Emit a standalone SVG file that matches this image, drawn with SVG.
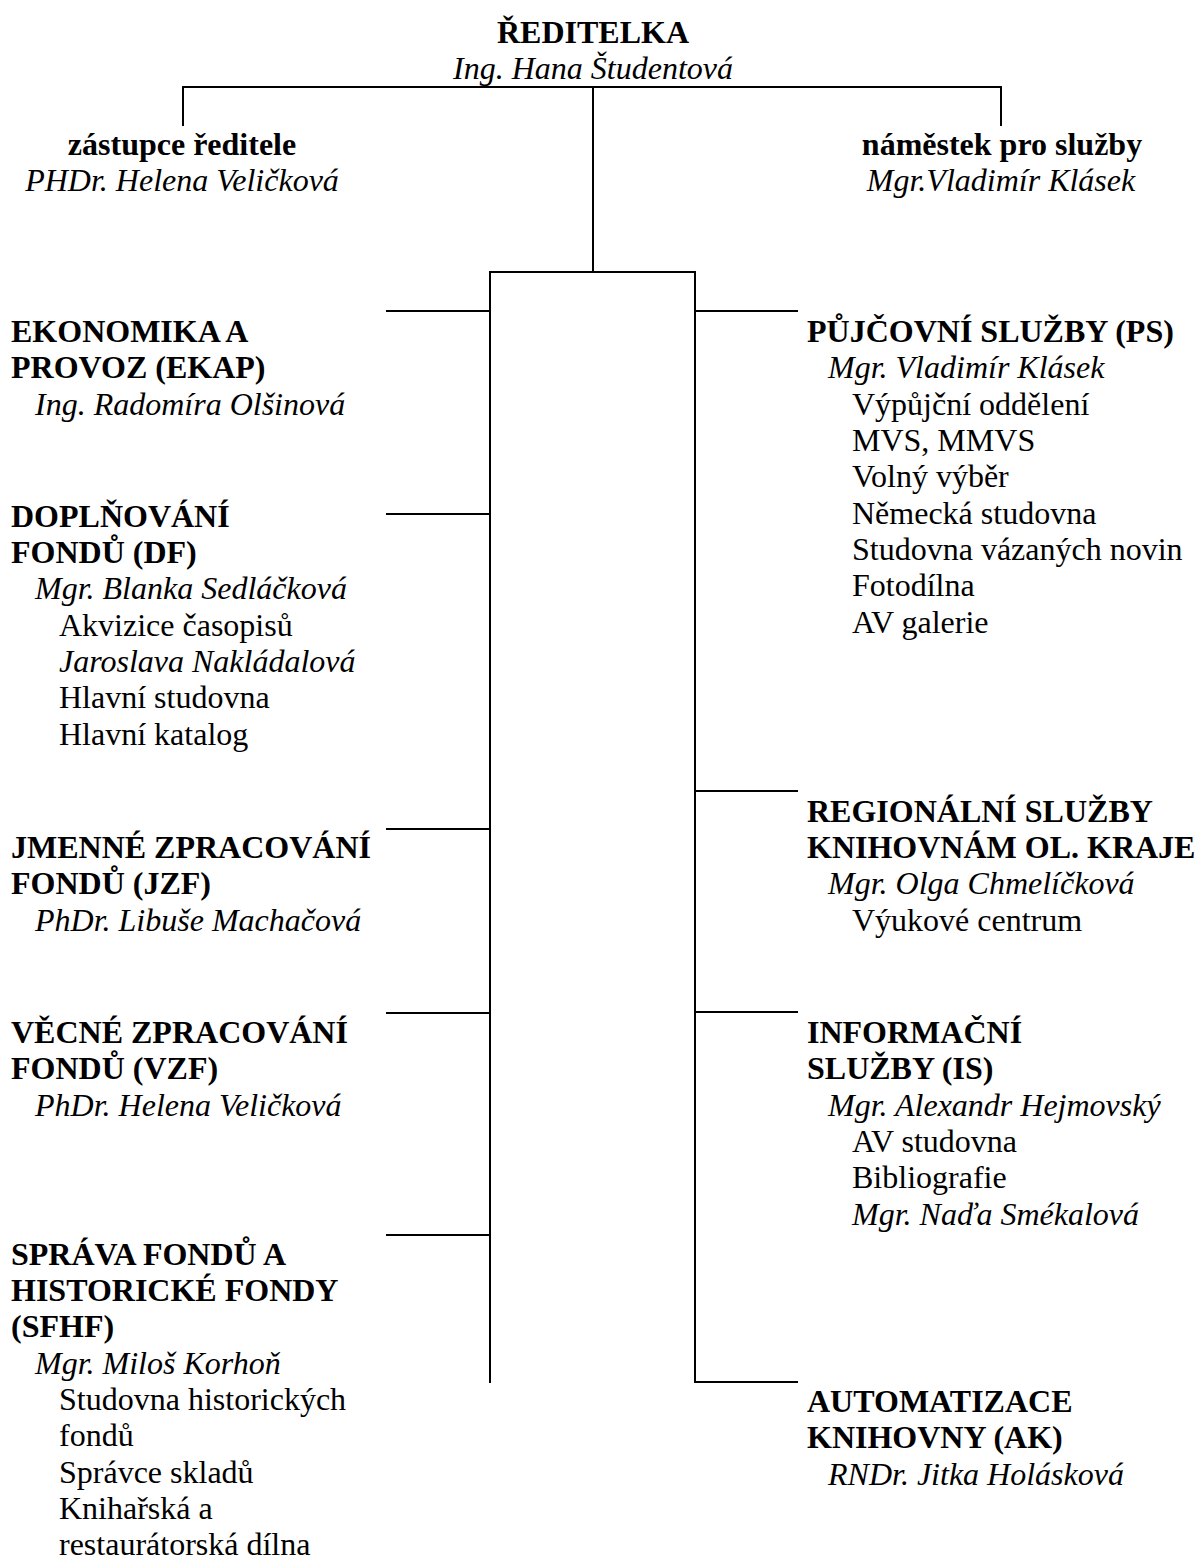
<svg xmlns="http://www.w3.org/2000/svg" width="1198" height="1563" viewBox="0 0 1198 1563">
<style>
text { font-family: "Liberation Serif", "Times New Roman", serif; font-size: 32px; fill: #000; }
.b { font-weight: bold; }
.i { font-style: italic; }
.c { text-anchor: middle; }
.ln { stroke: #000; stroke-width: 2; fill: none; stroke-linecap: square; }
</style>
<rect width="1198" height="1563" fill="#fff"/>
<g id="connectors">
<path class="ln" d="M183,87 H1001 M183,87 V125 M1001,87 V125 M593,87 V272 M490,272 H695 M490,272 V1382 M695,272 V1382 H797"/>
<path class="ln" d="M387,311 H490 M387,514 H490 M387,829 H490 M387,1013 H490 M387,1235 H490"/>
<path class="ln" d="M695,311 H797 M695,791 H797 M695,1012 H797"/>
</g>
<g id="reditelka">
<text class="b c" x="593" y="43">ŘEDITELKA</text>
<text class="i c" x="593" y="79">Ing. Hana Študentová</text>
</g>
<g id="zastupce">
<text class="b c" x="182" y="155">zástupce ředitele</text>
<text class="i c" x="182" y="191">PHDr. Helena Veličková</text>
</g>
<g id="namestek">
<text class="b c" x="1002" y="155">náměstek pro služby</text>
<text class="i c" x="1001" y="191">Mgr.Vladimír Klásek</text>
</g>
<g id="ekap">
<text class="b" x="11" y="342">EKONOMIKA A</text>
<text class="b" x="11" y="378">PROVOZ (EKAP)</text>
<text class="i" x="35" y="415">Ing. Radomíra Olšinová</text>
</g>
<g id="df">
<text class="b" x="11" y="527">DOPLŇOVÁNÍ</text>
<text class="b" x="11" y="563">FONDŮ (DF)</text>
<text class="i" x="35" y="599">Mgr. Blanka Sedláčková</text>
<text x="59" y="636">Akvizice časopisů</text>
<text class="i" x="59" y="672">Jaroslava Nakládalová</text>
<text x="59" y="708">Hlavní studovna</text>
<text x="59" y="745">Hlavní katalog</text>
</g>
<g id="jzf">
<text class="b" x="11" y="858">JMENNÉ ZPRACOVÁNÍ</text>
<text class="b" x="11" y="894">FONDŮ (JZF)</text>
<text class="i" x="35" y="931">PhDr. Libuše Machačová</text>
</g>
<g id="vzf">
<text class="b" x="11" y="1043">VĚCNÉ ZPRACOVÁNÍ</text>
<text class="b" x="11" y="1079">FONDŮ (VZF)</text>
<text class="i" x="35" y="1116">PhDr. Helena Veličková</text>
</g>
<g id="sfhf">
<text class="b" x="11" y="1265">SPRÁVA FONDŮ A</text>
<text class="b" x="11" y="1301">HISTORICKÉ FONDY</text>
<text class="b" x="11" y="1337">(SFHF)</text>
<text class="i" x="35" y="1374">Mgr. Miloš Korhoň</text>
<text x="59" y="1410">Studovna historických</text>
<text x="59" y="1446">fondů</text>
<text x="59" y="1483">Správce skladů</text>
<text x="59" y="1519">Knihařská a</text>
<text x="59" y="1555">restaurátorská dílna</text>
</g>
<g id="ps">
<text class="b" x="807" y="342">PŮJČOVNÍ SLUŽBY (PS)</text>
<text class="i" x="828" y="378">Mgr. Vladimír Klásek</text>
<text x="852" y="415">Výpůjční oddělení</text>
<text x="852" y="451">MVS, MMVS</text>
<text x="852" y="487">Volný výběr</text>
<text x="852" y="524">Německá studovna</text>
<text x="852" y="560">Studovna vázaných novin</text>
<text x="852" y="596">Fotodílna</text>
<text x="852" y="633">AV galerie</text>
</g>
<g id="rs">
<text class="b" x="807" y="822">REGIONÁLNÍ SLUŽBY</text>
<text class="b" x="807" y="858">KNIHOVNÁM OL. KRAJE</text>
<text class="i" x="828" y="894">Mgr. Olga Chmelíčková</text>
<text x="852" y="931">Výukové centrum</text>
</g>
<g id="is">
<text class="b" x="807" y="1043">INFORMAČNÍ</text>
<text class="b" x="807" y="1079">SLUŽBY (IS)</text>
<text class="i" x="828" y="1116">Mgr. Alexandr Hejmovský</text>
<text x="852" y="1152">AV studovna</text>
<text x="852" y="1188">Bibliografie</text>
<text class="i" x="852" y="1225">Mgr. Naďa Smékalová</text>
</g>
<g id="ak">
<text class="b" x="807" y="1412">AUTOMATIZACE</text>
<text class="b" x="807" y="1448">KNIHOVNY (AK)</text>
<text class="i" x="828" y="1485">RNDr. Jitka Holásková</text>
</g>
</svg>
